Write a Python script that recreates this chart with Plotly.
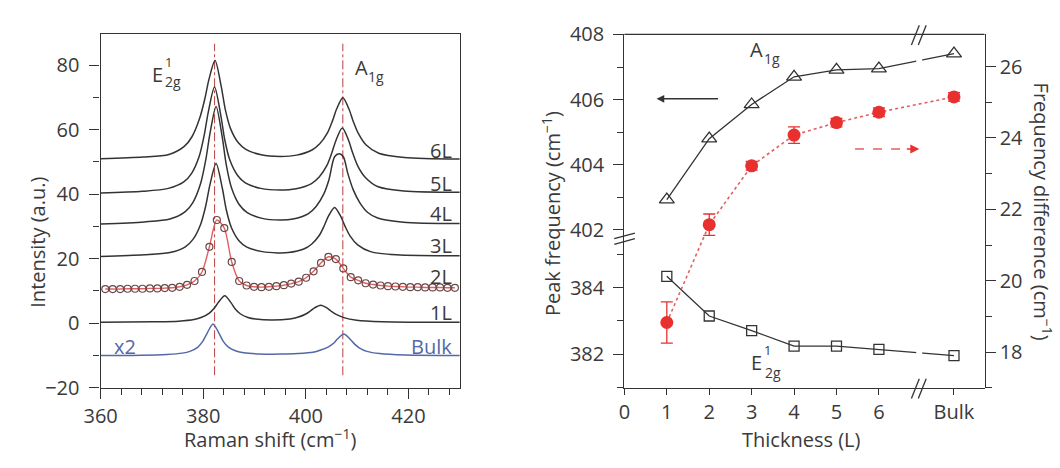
import plotly.graph_objects as go

# ---------------- data ----------------
# Left panel: Raman spectra (Raman shift in cm^-1, intensity in a.u.)
X_6L = [360, 368.3, 373.3, 376.3, 377.8, 379.3, 380.3, 381.1, 382.3, 383.5, 384.3, 385.3, 386.8, 388.3, 391.3, 395.0,
        398.2, 401.2, 402.7, 404.2, 405.2, 406.0, 407.2, 408.4, 409.2, 410.2, 411.7, 414.2, 419.2, 430]
Y_6L = [51.0, 51.5, 52.3, 54.8, 57.8, 63.5, 69.5, 75.5, 81.4, 73.4, 66.2, 60.4, 56.0, 53.9, 52.2, 51.7,
        52.1, 53.7, 55.6, 59.0, 62.8, 66.4, 69.9, 66.4, 62.7, 58.9, 55.3, 52.7, 51.4, 50.9]

X_5L = [360, 368.2, 373.2, 376.2, 377.7, 379.2, 380.2, 381.0, 382.2, 383.4, 384.2, 385.2, 386.7, 388.2, 391.2, 395.0,
        398.1, 401.1, 402.6, 404.1, 405.1, 405.9, 407.1, 408.3, 409.1, 410.1, 411.6, 414.1, 419.1, 430]
Y_5L = [40.4, 40.9, 41.8, 43.8, 46.4, 51.7, 58.4, 65.6, 73.2, 64.6, 56.8, 50.5, 45.8, 43.5, 41.8, 41.3,
        41.7, 43.3, 45.3, 48.9, 53.0, 56.8, 60.5, 56.8, 52.9, 48.8, 45.2, 42.3, 41.0, 40.6]

X_4L = [360, 368.5, 373.5, 376.5, 378.0, 379.5, 380.5, 381.3, 382.5, 383.7, 384.5, 385.5, 387.0, 388.5, 391.5, 395.0,
        397.5, 400.5, 402.0, 403.5, 404.5, 405.6, 406.5, 407.3, 408.2, 409.2, 410.5, 412.0, 414.0, 419.0, 430]
Y_4L = [30.8, 31.4, 32.3, 34.6, 37.5, 43.4, 50.7, 58.7, 67.2, 57.7, 49.0, 42.0, 36.8, 34.4, 32.5, 32.0,
        32.3, 34.0, 36.2, 40.1, 44.5, 51.6, 52.5, 51.6, 46.3, 41.5, 37.4, 34.4, 32.6, 31.3, 30.9]

X_3L = [360, 368.5, 373.5, 376.5, 378.0, 379.5, 380.5, 381.3, 382.5, 383.7, 384.5, 385.5, 387.0, 388.5, 391.5, 394.5,
        396.6, 399.6, 401.1, 402.6, 403.6, 404.4, 405.6, 406.8, 407.6, 408.6, 410.1, 412.6, 417.6, 430]
Y_3L = [20.7, 21.2, 21.9, 23.7, 26.0, 30.7, 36.5, 42.9, 49.5, 42.0, 35.1, 29.6, 25.5, 23.6, 22.2, 21.8,
        21.9, 23.0, 24.5, 27.2, 30.3, 33.2, 35.9, 33.1, 30.2, 27.1, 24.3, 22.2, 21.2, 20.9]

X_2L = [360.9, 362.35, 363.8, 365.25, 366.7, 368.15, 369.6, 371.05, 372.5, 373.95, 375.4, 376.85, 378.3, 379.75,
        381.2, 382.65, 384.1, 385.55, 387.0, 388.45, 389.9, 391.35, 392.8, 394.25, 395.7, 397.15, 398.6, 400.05,
        401.5, 402.95, 404.4, 405.85, 407.3, 408.75, 410.2, 411.65, 413.1, 414.55, 416.0, 417.45, 418.9, 420.35,
        421.8, 423.25, 424.7, 426.15, 427.6, 429.05]
Y_2L = [10.6, 10.6, 10.6, 10.7, 10.7, 10.7, 10.8, 10.8, 10.9, 11.0, 11.3, 11.9, 13.1, 15.9,
        23.7, 32.0, 29.5, 19.0, 13.1, 11.7, 11.3, 11.2, 11.3, 11.5, 11.8, 12.3, 12.9, 14.1,
        16.1, 18.7, 20.6, 19.9, 17.0, 14.3, 13.3, 12.4, 12.0, 11.7, 11.5, 11.4, 11.3, 11.2,
        11.2, 11.1, 11.1, 11.1, 11.0, 11.0]

X_1L = [360, 370.2, 375.2, 378.2, 379.7, 381.2, 382.2, 383.0, 384.2, 385.4, 386.2, 387.2, 388.7, 390.2,
        393.5, 396.9, 398.4, 399.9, 400.9, 401.7, 402.9, 404.1, 404.9, 405.9, 407.4, 409.9, 414.9, 430]
Y_1L = [0.3, 0.45, 0.65, 1.15, 1.85, 3.15, 4.8, 6.6, 8.5, 6.4, 4.5, 2.95, 1.8, 1.3,
        1.0, 1.35, 1.85, 2.8, 3.85, 4.8, 5.6, 4.75, 3.8, 2.75, 1.75, 0.95, 0.5, 0.3]

X_BULK = [360, 367.9, 372.9, 375.9, 377.4, 378.9, 379.9, 380.7, 381.9, 383.1, 383.9, 384.9, 386.4, 387.9, 390.9, 395.0,
          398.4, 401.4, 402.9, 404.4, 405.4, 406.2, 407.4, 408.6, 409.4, 410.4, 411.9, 414.4, 419.4, 430]
Y_BULK = [-10.0, -9.9, -9.65, -9.25, -8.7, -7.45, -5.6, -3.25, -0.2, -3.2, -5.6, -7.4, -8.6, -9.15, -9.5, -9.55,
          -9.4, -9.0, -8.3, -7.3, -6.2, -4.8, -3.3, -4.9, -6.3, -7.6, -8.7, -9.4, -9.85, -10.0]

SPECTRA_LABELS = ["6L", "5L", "4L", "3L", "2L", "1L", "Bulk"]
LABEL_Y = [53.5, 43.3, 33.9, 24.0, 14.6, 3.3, -7.2]
E2G_SHIFT = 382.2   # dash-dot guide positions (cm^-1)
A1G_SHIFT = 407.2
GUIDE_SPAN = [-16.1, 86.6]

# Right panel: thickness dependence
THICKNESS_TEXT = ["0", "1", "2", "3", "4", "5", "6", "Bulk"]
THICKNESS_POS = [0, 1, 2, 3, 4, 5, 6, 7.77]
LAYER_POS = [1, 2, 3, 4, 5, 6, 7.77]
A1G_FREQ = [402.93, 404.80, 405.85, 406.70, 406.91, 406.95, 407.41]
E2G_FREQ = [384.35, 383.15, 382.71, 382.24, 382.24, 382.14, 381.95]
FREQ_DIFF = [18.83, 21.57, 23.22, 24.08, 24.43, 24.72, 25.15]
FREQ_DIFF_ERR = [0.58, 0.30, 0.12, 0.23, 0.12, 0.12, 0.12]
AXIS_BREAK_X = 6.94

# ---------------- styling ----------------
W, H = 1060, 468
FONT = "Open Sans"
INK = "#333333"
TXT = "#3a3a3a"
RED = "#e8302f"
RED_LINE = "#e06060"
GUIDE_RED = "#c0504d"
BLUE = "#5368a8"


def px(p):
    return p / W


def py(p):
    return 1 - p / H


Y_DOM = [py(396.7), py(21.7)]
Y_BREAK = py(238)

fig = go.Figure()

# ---- left panel ----
for xv in (E2G_SHIFT, A1G_SHIFT):
    fig.add_trace(go.Scatter(x=[xv, xv], y=GUIDE_SPAN, mode="lines",
                             line=dict(color=GUIDE_RED, width=1.1, dash="dashdot"),
                             xaxis="x", yaxis="y", hoverinfo="skip", showlegend=False))

for xs, ys in [(X_6L, Y_6L), (X_5L, Y_5L), (X_4L, Y_4L), (X_3L, Y_3L), (X_1L, Y_1L)]:
    fig.add_trace(go.Scatter(x=xs, y=ys, mode="lines", line=dict(color=INK, width=1.5, shape="spline", smoothing=0.8),
                             xaxis="x", yaxis="y", showlegend=False))

fig.add_trace(go.Scatter(x=X_2L, y=Y_2L, mode="lines+markers",
                         line=dict(color=RED_LINE, width=1.4, shape="spline", smoothing=0.8),
                         marker=dict(symbol="circle-open", size=7, color="#6b4848", line=dict(width=1.2)),
                         xaxis="x", yaxis="y", showlegend=False))

fig.add_trace(go.Scatter(x=X_BULK, y=Y_BULK, mode="lines",
                         line=dict(color=BLUE, width=1.5, shape="spline", smoothing=0.8),
                         xaxis="x", yaxis="y", showlegend=False))

# ---- right panel ----
fig.add_trace(go.Scatter(x=LAYER_POS, y=FREQ_DIFF, mode="lines+markers",
                         line=dict(color=RED_LINE, width=1.6, dash="dot"),
                         marker=dict(symbol="circle", size=13, color=RED),
                         error_y=dict(type="data", array=FREQ_DIFF_ERR, color=RED, thickness=1.3, width=6),
                         xaxis="x2", yaxis="y4", showlegend=False))
fig.add_trace(go.Scatter(x=LAYER_POS, y=A1G_FREQ, mode="lines+markers",
                         line=dict(color=INK, width=1.3),
                         marker=dict(symbol="triangle-up-open", size=13, color=INK, line=dict(width=1.3)),
                         xaxis="x2", yaxis="y3", showlegend=False))
fig.add_trace(go.Scatter(x=LAYER_POS, y=E2G_FREQ, mode="lines+markers",
                         line=dict(color=INK, width=1.3),
                         marker=dict(symbol="square-open", size=10, color=INK, line=dict(width=1.3)),
                         xaxis="x2", yaxis="y2", showlegend=False))

tickfont = dict(family=FONT, size=20, color=TXT)
common = dict(showgrid=False, zeroline=False, showline=True, linecolor=INK, linewidth=1.3,
              ticks="outside", tickcolor=INK, tickwidth=1.3, tickfont=tickfont)
minor = dict(ticks="outside", ticklen=6, tickwidth=1.2, tickcolor=INK)

fig.update_layout(
    width=W, height=H, margin=dict(l=0, r=0, t=0, b=0),
    paper_bgcolor="white", plot_bgcolor="rgba(0,0,0,0)",
    xaxis=dict(domain=[px(85), px(450)], range=[360, 430], anchor="y", mirror=True,
               tick0=360, dtick=20, ticklen=10, minor=dict(minor, tick0=360, dtick=4), **common),
    yaxis=dict(domain=Y_DOM, range=[-20, 89.5], anchor="x", mirror=True, ticklabelstandoff=6,
               tick0=-20, dtick=20, ticklen=10, minor=dict(minor, tick0=-20, dtick=10), **common),
    xaxis2=dict(domain=[px(617.3), px(983.3)], range=[0, 8.49], anchor="y2",
                tickmode="array", tickvals=THICKNESS_POS, ticktext=THICKNESS_TEXT, ticklen=6, **common),
    yaxis2=dict(domain=[Y_DOM[0], Y_BREAK], range=[380.98, 385.5], anchor="x2", ticklabelstandoff=5,
                tick0=382, dtick=2, ticklen=10, minor=dict(minor, tick0=381, dtick=1), **common),
    yaxis3=dict(domain=[Y_BREAK, Y_DOM[1]], range=[401.74, 408], anchor="x2", ticklabelstandoff=5,
                tick0=402, dtick=2, ticklen=10, minor=dict(minor, tick0=401, dtick=1), **common),
    yaxis4=dict(domain=Y_DOM, range=[17, 26.9], anchor="x2", side="right",
                tick0=18, dtick=2, ticklen=10, minor=dict(minor, tick0=17, dtick=1), **common),
)

shapes = []
# top frame line of right panel
shapes.append(dict(type="line", xref="x2 domain", yref="paper", x0=0, x1=1, y0=Y_DOM[1], y1=Y_DOM[1],
                   line=dict(color=INK, width=1.3)))
# white gaps in the connecting lines at the axis break
shapes.append(dict(type="rect", xref="x2", yref="y3", x0=AXIS_BREAK_X - 0.06, x1=AXIS_BREAK_X + 0.08,
                   y0=406.95, y1=407.45, fillcolor="white", line=dict(width=0), layer="above"))
shapes.append(dict(type="rect", xref="x2", yref="y2", x0=AXIS_BREAK_X - 0.06, x1=AXIS_BREAK_X + 0.08,
                   y0=381.88, y1=382.2, fillcolor="white", line=dict(width=0), layer="above"))


def slash(x0, y0, x1, y1):
    shapes.append(dict(type="line", xref="paper", yref="paper", x0=px(x0), y0=py(y0), x1=px(x1), y1=py(y1),
                       line=dict(color=INK, width=1.3)))


# break marks
slash(607, 238.5, 628, 232.5)
slash(607, 244.5, 628, 238.5)
for cx in (913, 920):
    slash(cx - 4, 408, cx + 4, 387)
    slash(cx - 4, 33, cx + 4, 12)
# red dashed arrow shaft
shapes.append(dict(type="line", xref="paper", yref="paper", x0=px(851.7), x1=px(906), y0=py(143.3), y1=py(143.3),
                   line=dict(color=RED_LINE, width=1.5, dash="dash")))

ann = []


def text(t, x, y, size=20, color=TXT, angle=0, xanchor="center", yanchor="middle"):
    ann.append(dict(text=t, x=px(x), y=py(y), xref="paper", yref="paper", showarrow=False,
                    font=dict(family=FONT, size=size, color=color), textangle=angle,
                    xanchor=xanchor, yanchor=yanchor))


# spectrum labels
for lab, yv in zip(SPECTRA_LABELS, LABEL_Y):
    ann.append(dict(text=lab, x=428.8, y=yv, xref="x", yref="y", showarrow=False, xanchor="right",
                    yanchor="middle", font=dict(family=FONT, size=20, color=BLUE if lab == "Bulk" else TXT)))
ann.append(dict(text="x2", x=364.7, y=LABEL_Y[-1], xref="x", yref="y", showarrow=False, xanchor="center",
                yanchor="middle", font=dict(family=FONT, size=20, color=BLUE)))

# mode labels, left panel
text("E", 143, 64)
text("1", 154, 51, size=13)
text("2g", 159, 72, size=14)
text("A", 350, 57)
text("1g", 365, 66, size=14)
# mode labels, right panel
text("A", 752, 38)
text("1g", 767, 47, size=14)
text("E", 752, 370)
text("1", 763, 357, size=13)
text("2g", 768, 380, size=14)

# axis titles
text("Intensity (a.u.)", 20, 242, size=20, angle=-90)
text("Raman shift (cm<sup>−1</sup>)", 257, 450, size=20)
text("Peak frequency (cm<sup>−1</sup>)", 543, 212, size=20, angle=-90)
text("Frequency difference (cm<sup>−1</sup>)", 1042, 210, size=20, angle=90)
text("Thickness (L)", 797, 452, size=20)

# arrows (black points left, red points right)
ann.append(dict(x=px(650), y=py(90), xref="paper", yref="paper", ax=63, ay=0, showarrow=True, text="",
                arrowhead=2, arrowsize=1.1, arrowwidth=1.4, arrowcolor=INK))
ann.append(dict(x=px(917), y=py(143.3), xref="paper", yref="paper", ax=-14, ay=0, showarrow=True, text="",
                arrowhead=2, arrowsize=1.2, arrowwidth=1.5, arrowcolor=RED))

fig.update_layout(shapes=shapes, annotations=ann)
fig.write_html("out.html")
